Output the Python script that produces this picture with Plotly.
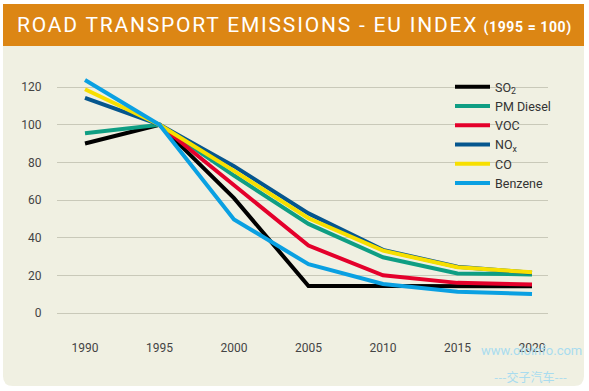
import plotly.graph_objects as go

years = [1990, 1995, 2000, 2005, 2010, 2015, 2020]
series_names = ["SO<sub>2</sub>", "PM Diesel", "VOC", "NO<sub>x</sub>", "CO", "Benzene"]
so2 = [90, 100, 61, 14.3, 14.3, 14.2, 14.2]
pm_diesel = [95.4, 100, 73, 47.3, 29.6, 21, 20.5]
voc = [None, 100, 68, 35.8, 20, 16, 15.2]
nox = [114.3, 100, 78, 52.9, 33.5, 24.6, 21.4]
co = [118.8, 100, 75.5, 50.3, 33.1, 24.3, 21.6]
benzene = [123.7, 100, 49.7, 25.9, 15.4, 11.3, 10.1]
series_values = [so2, pm_diesel, voc, nox, co, benzene]
colors = ["#000000", "#0f9e83", "#e4002b", "#05568e", "#f7df00", "#0aa0e2"]
y_ticks = [0, 20, 40, 60, 80, 100, 120]

W, H = 589, 391
L, R, T, B = 57, 41, 70, 58
pw, ph = W - L - R, H - T - B

def fx(px):
    return (px - L) / pw

def fy(py):
    return (H - B - py) / ph

fig = go.Figure()
for name, vals, c in zip(series_names, series_values, colors):
    fig.add_trace(go.Scatter(x=years, y=vals, name=name, mode="lines",
                             line=dict(color=c, width=4), connectgaps=False))

panel = "#f0f0e2"
x0, x1, y0, y1, r = 3, 584, 44, 386, 10
rx, ry = r / pw, r / ph
path = (f"M {fx(x0)},{fy(y0)} L {fx(x1)},{fy(y0)} L {fx(x1)},{fy(y1)+ry} "
        f"Q {fx(x1)},{fy(y1)} {fx(x1)-rx},{fy(y1)} L {fx(x0)+rx},{fy(y1)} "
        f"Q {fx(x0)},{fy(y1)} {fx(x0)},{fy(y1)+ry} Z")
shapes = [
    dict(type="path", xref="paper", yref="paper", path=path, fillcolor=panel,
         line=dict(width=0), layer="below"),
    dict(type="rect", xref="paper", yref="paper", x0=fx(3), x1=fx(584), y0=fy(46), y1=fy(4),
         fillcolor="#dc8614", line=dict(width=0), layer="below"),
    dict(type="rect", xref="paper", yref="paper", x0=fx(424), x1=fx(552), y0=fy(190), y1=fy(76),
         fillcolor=panel, line=dict(width=0), layer="between"),
]

annotations = [
    dict(xref="paper", yref="paper", x=fx(15), y=fy(25), xanchor="left", yanchor="middle",
         showarrow=False,
         text=("<span style='letter-spacing:1.8px'>ROAD TRANSPORT EMISSIONS - EU INDEX</span> "
               "<span style='font-size:14px;font-weight:bold;letter-spacing:0.6px'>(1995 = 100)</span>"),
         font=dict(family="Roboto", size=21, color="white", weight=400)),
    dict(xref="paper", yref="paper", x=fx(531), y=fy(350), xanchor="center", yanchor="middle",
         showarrow=False, text="www.oloinfo.com",
         font=dict(family="Roboto", size=13, color="#a9dcef")),
    dict(xref="paper", yref="paper", x=fx(530), y=fy(376), xanchor="center", yanchor="middle",
         showarrow=False, text="---交子汽车---",
         font=dict(family="Noto Sans CJK SC", size=12, color="#a9dcef")),
]

px_per_year = (532 - 85) / 30
fig.update_layout(
    width=W, height=H,
    margin=dict(l=L, r=R, t=T, b=B),
    paper_bgcolor="white", plot_bgcolor="rgba(0,0,0,0)",
    shapes=shapes, annotations=annotations,
    font=dict(family="Roboto", color="#3a3a3a", size=12),
    legend=dict(x=fx(450), y=fy(72), xanchor="left", yanchor="top",
                bgcolor="rgba(0,0,0,0)", font=dict(size=12.5, color="#333333"),
                tracegroupgap=0, itemwidth=35),
    xaxis=dict(range=[1990 - (85 - L) / px_per_year, 2020 + (L + pw - 532) / px_per_year],
               tickvals=years, showgrid=False, zeroline=False, showline=False,
               ticks="outside", ticklen=4, tickcolor="rgba(0,0,0,0)",
               tickfont=dict(size=12, color="#444444"), fixedrange=True),
    yaxis=dict(range=[(H - B - 313) / -1.883, (313 - T) / 1.883],
               tickvals=y_ticks, showgrid=True, gridcolor="#c9c9b9", gridwidth=1,
               zeroline=False, showline=False, automargin=False,
               ticks="outside", ticklen=12, tickcolor="rgba(0,0,0,0)",
               tickfont=dict(size=12, color="#444444"), fixedrange=True),
)
fig.write_html("out.html", post_script="document.body.style.margin='0';",
               config={"displayModeBar": False})
